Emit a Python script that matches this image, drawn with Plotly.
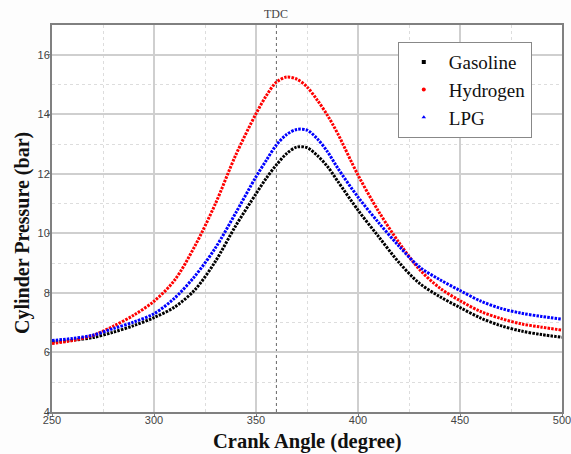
import plotly.graph_objects as go

# Crank angle (degree)
crank_angle = [250, 260, 270, 280, 290, 300, 310, 320, 330, 340, 350, 355, 360, 365,
               370, 375, 380, 385, 390, 400, 410, 420, 430, 440, 450, 460, 470,
               480, 490, 500]

gasoline = [6.35, 6.41, 6.50, 6.68, 6.90, 7.17, 7.52, 8.10, 9.05, 10.25, 11.33, 11.85,
            12.30, 12.68, 12.90, 12.88, 12.62, 12.25, 11.76, 10.78, 9.90, 9.03,
            8.33, 7.88, 7.51, 7.16, 6.90, 6.72, 6.60, 6.51]

hydrogen = [6.30, 6.40, 6.57, 6.88, 7.25, 7.72, 8.42, 9.57, 10.98, 12.62, 14.02, 14.62,
            15.08, 15.25, 15.18, 14.92, 14.48, 13.97, 13.36, 11.96, 10.75, 9.70,
            8.80, 8.17, 7.74, 7.38, 7.14, 6.96, 6.85, 6.75]

lpg = [6.40, 6.47, 6.58, 6.80, 7.02, 7.30, 7.82, 8.56, 9.50, 10.68, 11.90, 12.45,
       12.97, 13.32, 13.49, 13.47, 13.18, 12.75, 12.20, 11.22, 10.37, 9.58,
       8.88, 8.45, 8.08, 7.73, 7.48, 7.32, 7.21, 7.12]

series = [
    ("Gasoline", gasoline, "#000000", "square"),
    ("Hydrogen", hydrogen, "#ff0000", "circle"),
    ("LPG", lpg, "#0000ff", "triangle-up"),
]

x_ticks = [250, 300, 350, 400, 450, 500]
y_ticks = [4, 6, 8, 10, 12, 14, 16]
tdc_angle = 360

fig = go.Figure()

for name, vals, color, sym in series:
    fig.add_trace(go.Scatter(
        x=crank_angle, y=vals, mode="lines", name=name, showlegend=False,
        line=dict(color=color, width=3, shape="spline", smoothing=0.9, dash="2.5px,1.2px"),
    ))
    fig.add_trace(go.Scatter(
        x=[None], y=[None], mode="markers", name=name, showlegend=True,
        marker=dict(color=color, size=4, symbol=sym),
    ))

fig.add_shape(type="line", x0=tdc_angle, x1=tdc_angle, y0=0, y1=1, yref="paper",
              line=dict(color="#666666", width=1, dash="dot"), layer="below")

fig.add_annotation(x=tdc_angle, y=1, yref="paper", text="TDC", showarrow=False,
                   yanchor="bottom", yshift=2,
                   font=dict(family="Liberation Serif", size=12, color="#444444"))

fig.add_annotation(x=0.5, y=0, xref="paper", yref="paper", text="<b>Crank Angle (degree)</b>",
                   showarrow=False, xanchor="center", yanchor="middle", yshift=-29,
                   font=dict(family="Liberation Serif", size=20.5, color="#111111"))
fig.add_annotation(x=0, y=0.4625, xref="paper", yref="paper",
                   text="<b>Cylinder Pressure (bar)</b>", textangle=-90,
                   showarrow=False, xanchor="center", yanchor="middle", xshift=-30,
                   font=dict(family="Liberation Serif", size=20, color="#111111"))

axis_common = dict(
    showline=True, linecolor="#808080", linewidth=2, mirror=True,
    showgrid=True, gridcolor="#cfcfcf", gridwidth=1.5,
    ticks="outside", ticklen=3, tickcolor="#808080",
    tickfont=dict(family="Liberation Sans", size=11, color="#444444"),
    zeroline=False, automargin=False, ticklabeloverflow="allow",
)

fig.update_layout(
    width=571, height=454,
    margin=dict(l=52, r=9, t=25, b=42),
    paper_bgcolor="#fdfdfd", plot_bgcolor="#ffffff",
    xaxis=dict(range=[250, 500], tickvals=x_ticks, ticklabelstandoff=-6,
               minor=dict(dtick=25, tick0=250, showgrid=True, gridcolor="#dddddd",
                          griddash="dot", gridwidth=1),
               **axis_common),
    yaxis=dict(range=[4, 17], tickvals=y_ticks, ticklabelstandoff=-5,
               minor=dict(dtick=1, tick0=4, showgrid=True, gridcolor="#dddddd",
                          griddash="dot", gridwidth=1),
               **axis_common),
    legend=dict(x=0.678, y=0.956, xanchor="left", yanchor="top",
                bgcolor="#ffffff", bordercolor="#888888", borderwidth=1,
                font=dict(family="Liberation Serif", size=19, color="#111111"),
                itemwidth=40, tracegroupgap=0),
    showlegend=True,
)

fig.write_html("out.html")
